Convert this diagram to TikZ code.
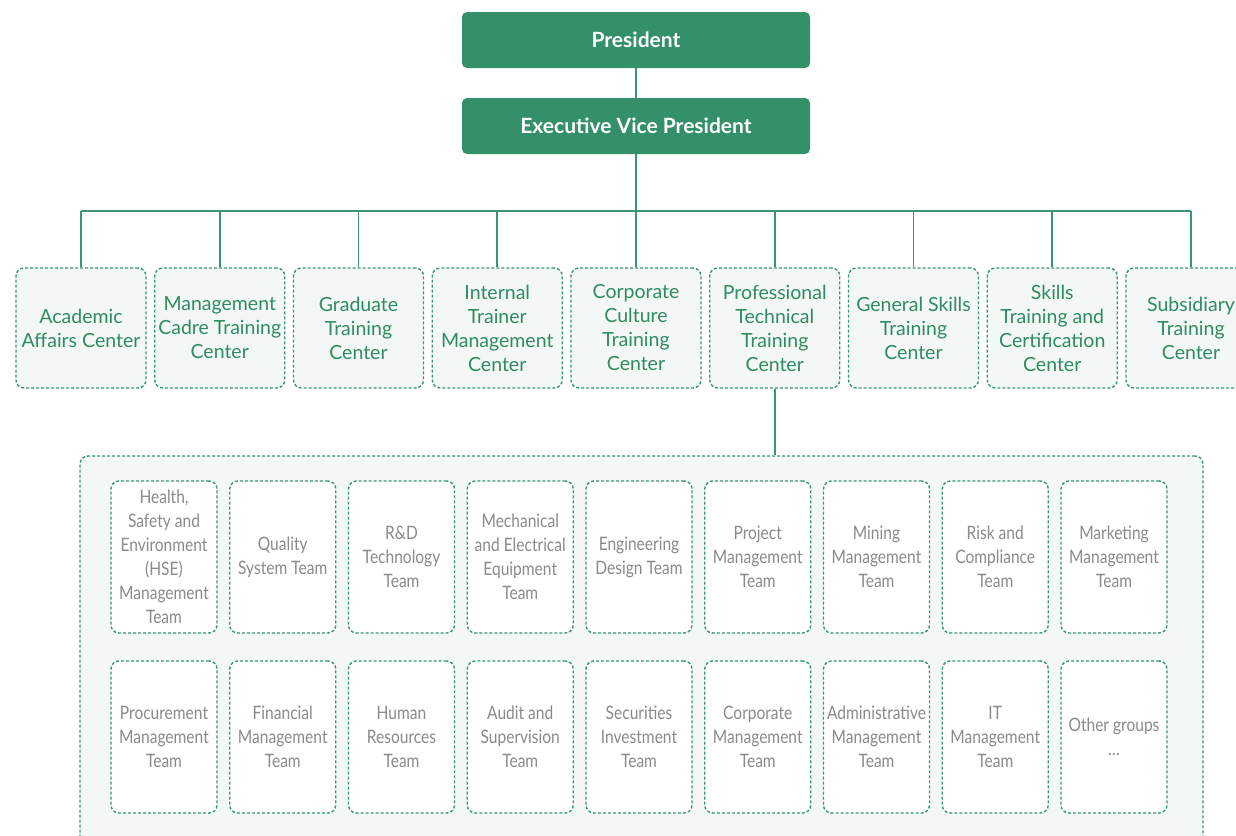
\documentclass[tikz,border=0pt]{standalone}
\usepackage{fontspec}
\setmainfont{Lato}
\newfontfamily\teamfont[FakeStretch=0.84]{Lato}
\definecolor{leadgreen}{HTML}{339068}
\definecolor{linegreen}{HTML}{3A9670}
\definecolor{textgreen}{HTML}{2F8C60}
\definecolor{paleback}{HTML}{F3F7F5}
\definecolor{teamgray}{HTML}{8A8A8A}
\tikzset{lead/.style={fill=leadgreen, rounded corners=5pt, minimum width=348pt, minimum height=56pt, text=white, inner sep=0pt, font=\fontsize{21}{24}\selectfont\bfseries}}
\tikzset{dashedge/.style={draw=linegreen, dash pattern=on 3pt off 2pt, line width=1.4pt, rounded corners=8pt}}
\tikzset{trainbox/.style={dashedge, fill=paleback, minimum width=130pt, minimum height=120pt, inner sep=0pt, align=center, text=textgreen, font=\fontsize{19.5}{24}\selectfont}}
\tikzset{teambox/.style={dashedge, fill=white, minimum width=106pt, minimum height=152pt, inner sep=0pt, align=center, text=teamgray, font=\teamfont\fontsize{18.5}{24}\selectfont}}
\tikzset{link/.style={draw=linegreen, line width=1.6pt}}

\begin{document}
\begin{tikzpicture}[x=1pt, y=-1pt]
            \useasboundingbox (0, 0) rectangle (1236, 835);
            \node[lead] (pres) at (636, 40) {President};
            \node[lead] (evp) at (636, 126) {Executive Vice President};
            \draw[link] (pres) -- (evp);
            % training centers
            \foreach \name/\i/\txt in {acad/0/{Academic\\Affairs Center}, cadre/1/{Management\\Cadre Training\\Center}, grad/2/{Graduate\\Training\\Center}, trainer/3/{Internal\\Trainer\\Management\\Center}, culture/4/{Corporate\\Culture\\Training\\Center}, prof/5/{Professional\\Technical\\Training\\Center}, general/6/{General Skills\\Training\\Center}, skills/7/{Skills\\Training and\\Certification\\Center}, subsid/8/{Subsidiary\\Training\\Center}} {
                \node[trainbox] (\name) at (81 + 138.75*\i, 328) {\txt};
            }
            \coordinate (bus) at (636, 211);
            \draw[link] (evp) -- (bus);
            \draw[link] (bus -| acad.north) -- (bus -| subsid.north);
            \foreach \name in {acad, cadre, grad, trainer, culture, prof, general, skills, subsid} {
                \draw[link] (bus -| \name.north) -- (\name.north);
            }
            % professional teams
            \node[dashedge, fill=paleback, minimum width=1123pt, minimum height=400pt] (grp) at (641.5, 656) {};
            \draw[link] (prof.south) -- (grp.north -| prof.south);
            \foreach \name/\i/\txt in {hse/0/{Health,\\Safety and\\Environment\\(HSE)\\Management\\Team}, quality/1/{Quality\\System Team}, rnd/2/{R\&D\\Technology\\Team}, mech/3/{Mechanical\\and Electrical\\Equipment\\Team}, design/4/{Engineering\\Design Team}, project/5/{Project\\Management\\Team}, mining/6/{Mining\\Management\\Team}, risk/7/{Risk and\\Compliance\\Team}, market/8/{Marketing\\Management\\Team}} {
                \node[teambox] (\name) at (164 + 118.75*\i, 557) {\txt};
            }
            \foreach \name/\i/\txt in {procure/0/{Procurement\\Management\\Team}, finance/1/{Financial\\Management\\Team}, hr/2/{Human\\Resources\\Team}, audit/3/{Audit and\\Supervision\\Team}, secur/4/{Securities\\Investment\\Team}, corp/5/{Corporate\\Management\\Team}, admin/6/{Administrative\\Management\\Team}, it/7/{IT\\Management\\Team}, other/8/{Other groups\\\ldots}} {
                \node[teambox] (\name) at (164 + 118.75*\i, 737) {\txt};
            }
        \end{tikzpicture}
\end{document}
